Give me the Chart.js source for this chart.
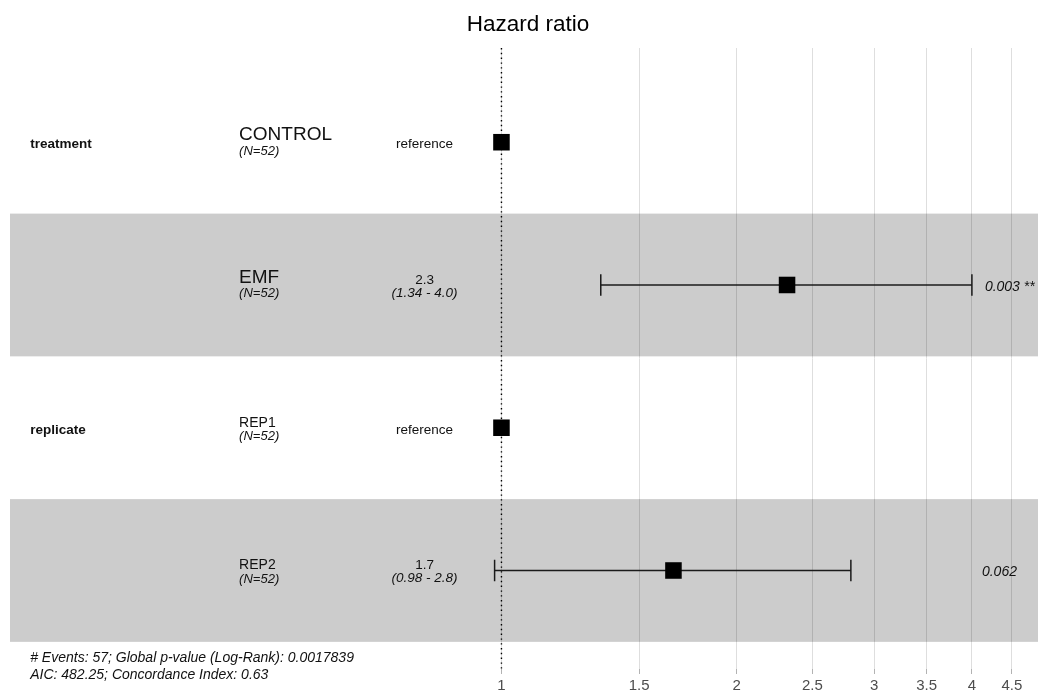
<!DOCTYPE html>
<html>
<head>
<meta charset="utf-8">
<title>Hazard ratio</title>
<script src="https://cdn.jsdelivr.net/npm/chart.js@4"></script>
<style>
  html, body { margin: 0; padding: 0; background: #ffffff; }
  #wrap { position: relative; width: 1038px; height: 698px; }
</style>
</head>
<body>
<div id="wrap"><canvas id="forest"></canvas></div>
<script>
// Cox model summary, one row per factor level (top to bottom)
const variables = ['treatment', '', 'replicate', ''];
const levels = ['CONTROL', 'EMF', 'REP1', 'REP2'];
const nCounts = [52, 52, 52, 52];
const hazardRatios = [1, 2.32, 1, 1.66];
const ciLow = [null, 1.34, null, 0.98];
const ciHigh = [null, 4.0, null, 2.8];
const pValues = [null, 0.003, null, 0.062];
const stars = ['', '**', '', ''];
const tickValues = [1, 1.5, 2, 2.5, 3, 3.5, 4, 4.5];
const nEvents = 57;
const globalP = 0.0017839;
const aic = 482.25;
const concordance = 0.63;

Chart.defaults.font.family = "'Liberation Sans', Arial, Helvetica, sans-serif";

const rows = levels.map((_, i) => i + 1);
const X_MIN = 0.235, X_MAX = 4.86;
const Y_MIN = 0.34, Y_MAX = 4.69;
const CAP = 0.075;            // half height of the error bar whiskers, in row units

// text columns, placed in hazard-ratio units on the log axis
const COL_VAR = 0.2494;
const COL_LEVEL = 0.4616;
const COL_CI = 0.7973;

const datasets = [];

// point estimates
datasets.push({
  type: 'scatter',
  data: rows.map((r, i) => ({ x: hazardRatios[i], y: r })),
  pointStyle: 'rect',
  pointRadius: 11.7,
  pointHoverRadius: 11.7,
  backgroundColor: '#000000',
  borderWidth: 0
});

// confidence intervals with whiskers
rows.forEach((r, i) => {
  if (ciLow[i] == null) return;
  const seg = {
    type: 'line', showLine: true, pointRadius: 0, borderColor: '#1a1a1a',
    borderWidth: 1.5, fill: false
  };
  datasets.push(Object.assign({}, seg, { data: [{ x: ciLow[i], y: r }, { x: ciHigh[i], y: r }] }));
  datasets.push(Object.assign({}, seg, { data: [{ x: ciLow[i], y: r - CAP }, { x: ciLow[i], y: r + CAP }] }));
  datasets.push(Object.assign({}, seg, { data: [{ x: ciHigh[i], y: r - CAP }, { x: ciHigh[i], y: r + CAP }] }));
});

// reference line at HR = 1
datasets.push({
  type: 'line', showLine: true, pointRadius: 0, borderColor: '#000000',
  borderWidth: 1.4, borderDash: [1.4, 3.4],
  data: [{ x: 1, y: Y_MIN }, { x: 1, y: Y_MAX }]
});

// alternating row shading, drawn over the grid but under the marks
const bandPlugin = {
  id: 'bands',
  beforeDatasetsDraw(chart) {
    const { ctx, chartArea, scales } = chart;
    const y = scales.y;
    ctx.save();
    ctx.fillStyle = 'rgba(0,0,0,0.2)';
    rows.forEach(r => {
      if (r % 2 !== 0) return;
      const top = y.getPixelForValue(r - 0.5);
      const bot = y.getPixelForValue(r + 0.5);
      ctx.fillRect(chartArea.left, top, chartArea.right - chartArea.left, bot - top);
    });
    ctx.restore();
  }
};

// table text beside the marks, title and model summary
const textPlugin = {
  id: 'tableText',
  afterDatasetsDraw(chart) {
    const { ctx, scales } = chart;
    const xs = scales.x, ys = scales.y;
    const ff = Chart.defaults.font.family;
    ctx.save();
    ctx.fillStyle = '#111111';
    ctx.textBaseline = 'alphabetic';

    rows.forEach((r, i) => {
      const cy = ys.getPixelForValue(r);

      if (variables[i]) {
        ctx.font = `bold 13.5px ${ff}`;
        ctx.textAlign = 'left';
        ctx.fillText(variables[i], xs.getPixelForValue(COL_VAR), cy + 6);
      }

      const big = i < 2;
      ctx.font = `${big ? 19 : 14}px ${ff}`;
      ctx.textAlign = 'left';
      ctx.fillText(levels[i], xs.getPixelForValue(COL_LEVEL), cy - (big ? 2 : 1.2));
      ctx.font = `italic 13px ${ff}`;
      ctx.fillText(`(N=${nCounts[i]})`, xs.getPixelForValue(COL_LEVEL), cy + 12.5);

      ctx.textAlign = 'center';
      const cx = xs.getPixelForValue(COL_CI);
      if (ciLow[i] == null) {
        ctx.font = `13.5px ${ff}`;
        ctx.fillText('reference', cx, cy + 6);
      } else {
        ctx.font = `13.5px ${ff}`;
        ctx.fillText(hazardRatios[i].toFixed(1), cx, cy - 1);
        ctx.font = `italic 13.5px ${ff}`;
        ctx.fillText(`(${ciLow[i].toFixed(2)} - ${ciHigh[i].toFixed(1)})`, cx, cy + 12);
      }

      if (pValues[i] != null) {
        ctx.font = `italic 14px ${ff}`;
        ctx.textAlign = 'left';
        const label = stars[i] ? `${pValues[i]} ${stars[i]}` : `${pValues[i]}`;
        const w = ctx.measureText(label).width;
        const anchor = xs.getPixelForValue(Math.max(...ciHigh.filter(v => v != null)));
        ctx.fillText(label, anchor + 0.2 * w + 3, cy + 6);
      }
    });

    // model summary under the table
    const base = ys.getPixelForValue(rows.length + 0.5);
    ctx.font = `italic 14px ${ff}`;
    ctx.textAlign = 'left';
    const fx = xs.getPixelForValue(COL_VAR);
    ctx.fillText(`# Events: ${nEvents}; Global p-value (Log-Rank): ${globalP}`, fx, base + 20.5);
    ctx.fillText(`AIC: ${aic}; Concordance Index: ${concordance}`, fx, base + 37);

    // title
    ctx.fillStyle = '#000000';
    ctx.font = `22.5px ${ff}`;
    ctx.textAlign = 'center';
    ctx.fillText('Hazard ratio', 528, 31);
    ctx.restore();
  }
};

new Chart(document.getElementById('forest'), {
  type: 'scatter',
  data: { datasets },
  options: {
    responsive: true,
    maintainAspectRatio: false,
    animation: false,
    layout: { autoPadding: false, padding: { top: 48, bottom: 0, left: 10, right: 0 } },
    plugins: {
      legend: { display: false },
      tooltip: { enabled: false },
      title: { display: false }
    },
    scales: {
      x: {
        type: 'logarithmic',
        min: X_MIN,
        max: X_MAX,
        bounds: 'data',
        afterBuildTicks(scale) {
          scale.ticks = tickValues.map(v => ({ value: v }));
        },
        afterFit(scale) {
          scale.paddingLeft = 0;
          scale.paddingRight = 0;
        },
        grid: {
          color: '#DEDEDE',
          lineWidth: 1,
          drawTicks: true,
          tickLength: 5,
          tickColor: '#B3B3B3',
          tickWidth: 1
        },
        border: { display: false },
        ticks: {
          autoSkip: false,
          maxRotation: 0,
          padding: 3,
          color: '#4D4D4D',
          font: { size: 15 },
          callback: v => String(v)
        }
      },
      y: {
        type: 'linear',
        reverse: true,
        min: Y_MIN,
        max: Y_MAX,
        bounds: 'data',
        display: false,
        grid: { display: false }
      }
    }
  },
  plugins: [bandPlugin, textPlugin]
});
</script>
</body>
</html>
